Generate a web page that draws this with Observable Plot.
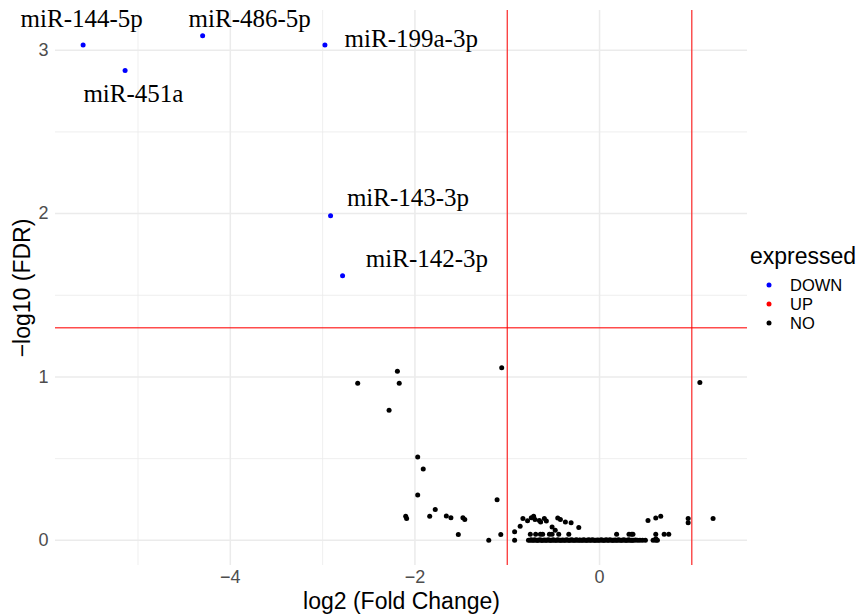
<!DOCTYPE html>
<html>
<head>
<meta charset="utf-8">
<script src="https://cdn.jsdelivr.net/npm/d3@7"></script>
<script src="https://cdn.jsdelivr.net/npm/@observablehq/plot@0.6"></script>
<style>
  html, body { margin: 0; padding: 0; background: #fff; }
  #chart { width: 866px; height: 615px; }
</style>
</head>
<body>
<div id="chart"></div>
<script>
// ---- Data ----
const downNames = ["miR-144-5p", "miR-451a", "miR-486-5p", "miR-199a-3p", "miR-143-3p", "miR-142-3p"];
const downFC    = [-5.595, -5.14, -4.30, -2.975, -2.914, -2.784];
const downFDR   = [3.032, 2.875, 3.089, 3.032, 1.986, 1.619];
// label anchor positions (repelled text), data coordinates
const labelFC   = [-5.61, -5.05, -3.79, -2.04, -2.075, -1.87];
const labelFDR  = [3.19, 2.733, 3.19, 3.07, 2.096, 1.719];

const noFC = [
  -2.62, -2.19, -2.17, -2.28, -1.06, -1.97, -1.91, -1.97, -2.10, -2.09,
  -1.84, -1.78, -1.66, -1.61, -1.48, -1.46, -1.53, -1.11, -1.20, -1.07,
  -0.92, -0.92, -0.86, -0.83, -0.78, -0.739, -0.714, -0.699, -0.652, -0.638,
  -0.598, -0.576, -0.514, -0.453, -0.424, -0.37, -0.308, -0.225, -0.48,
  -0.75, -0.692, -0.641, -0.616, -0.543, -0.514, -0.442, -0.333,
  0.185, 0.319, 0.348, 0.362, 0.609, 0.70, 0.75,
  0.525, 0.609, 0.663, 0.96, 0.96, 1.23, 1.087, 0.61,
  -0.77, -0.752, -0.741, -0.728, -0.713, -0.703, -0.688, -0.672, -0.664, -0.647,
  -0.633, -0.625, -0.611, -0.596, -0.581, -0.572, -0.556, -0.543, -0.531, -0.517,
  -0.502, -0.494, -0.476, -0.463, -0.452, -0.437, -0.424, -0.409, -0.398, -0.381,
  -0.372, -0.356, -0.343, -0.329, -0.318, -0.303, -0.291, -0.277, -0.262, -0.251,
  -0.238, -0.221, -0.213, -0.196, -0.183, -0.171, -0.158, -0.142, -0.131, -0.117,
  -0.104, -0.092, -0.077, -0.063, -0.051, -0.038, -0.022, -0.011, 0.004, 0.018,
  0.031, 0.046, 0.058, 0.072, 0.087, 0.099, 0.113, 0.127, 0.142, 0.153,
  0.168, 0.181, 0.194, 0.207, 0.221, 0.234, 0.247, 0.262, 0.276, 0.288,
  0.301, 0.316, 0.327, 0.343, 0.356, 0.372, 0.391, 0.412, 0.438, 0.466,
  0.497, 0.58, 0.609, 0.627
];
const noFDR = [
  0.962, 1.035, 0.962, 0.797, 1.056, 0.51, 0.436, 0.277, 0.147, 0.134,
  0.147, 0.188, 0.149, 0.139, 0.139, 0.127, 0.035, 0.249, 0.0, 0.035,
  0.053, 0.0, 0.086, 0.134, 0.12, 0.139, 0.147, 0.127, 0.122, 0.112,
  0.133, 0.118, 0.082, 0.136, 0.128, 0.112, 0.108, 0.078, 0.061,
  0.037, 0.037, 0.037, 0.037, 0.037, 0.037, 0.037, 0.037,
  0.037, 0.037, 0.037, 0.037, 0.037, 0.037, 0.037,
  0.122, 0.136, 0.147, 0.133, 0.108, 0.133, 0.966, 0.01,
  0.0, 0.0, 0.004, 0.0, 0.0, 0.003, 0.0, 0.0, 0.0, 0.004,
  0.0, 0.0, 0.0, 0.002, 0.0, 0.0, 0.004, 0.0, 0.0, 0.0,
  0.003, 0.0, 0.0, 0.0, 0.004, 0.0, 0.0, 0.0, 0.002, 0.0,
  0.0, 0.004, 0.0, 0.0, 0.0, 0.003, 0.0, 0.0, 0.0, 0.004,
  0.0, 0.0, 0.002, 0.0, 0.0, 0.004, 0.0, 0.0, 0.0, 0.003,
  0.0, 0.0, 0.004, 0.0, 0.0, 0.0, 0.002, 0.0, 0.0, 0.004,
  0.0, 0.0, 0.0, 0.003, 0.0, 0.0, 0.004, 0.0, 0.0, 0.0,
  0.002, 0.0, 0.0, 0.004, 0.0, 0.0, 0.0, 0.003, 0.0, 0.0,
  0.0, 0.004, 0.0, 0.0, 0.0, 0.0, 0.002, 0.0, 0.0, 0.0,
  0.0, 0.0, 0.0, 0.0
];

const legendLabels = ["DOWN", "UP", "NO"];
const legendColors = ["#0000ff", "#ff0000", "#000000"];
const legendTitle = "expressed";

const xMajorTicks = [-4, -2, 0];
const xMinorTicks = [-5, -3, -1, 1];
const yMajorTicks = [0, 1, 2, 3];
const yMinorTicks = [0.5, 1.5, 2.5];
const fcCutoffs = [-1, 1];
const fdrCutoff = [1.30103];
const xTitle = "log2 (Fold Change)";
const yTitle = "\u2212log10 (FDR)";

// ---- Build tables ----
const colorOf = Object.fromEntries(legendLabels.map((l, i) => [l, legendColors[i]]));
const points = [
  ...noFC.map((x, i) => ({x, y: noFDR[i], g: "NO"})),
  ...downFC.map((x, i) => ({x, y: downFDR[i], g: "DOWN"}))
];
const labels = downNames.map((name, i) => ({name, x: labelFC[i], y: labelFDR[i]}));

const sans = "'Liberation Sans', Arial, Helvetica, sans-serif";
const serif = "'Liberation Serif', 'Times New Roman', Times, serif";

const chart = Plot.plot({
  width: 866,
  height: 615,
  marginLeft: 55,
  marginRight: 119,
  marginTop: 10,
  marginBottom: 50,
  x: {domain: [-5.894, 1.603]},
  y: {domain: [-0.154, 3.243]},
  style: {fontFamily: sans, background: "#fff", color: "#4d4d4d"},
  marks: [
    Plot.gridX(xMinorTicks, {stroke: "#ebebeb", strokeOpacity: 1, strokeWidth: 0.8}),
    Plot.gridY(yMinorTicks, {stroke: "#ebebeb", strokeOpacity: 1, strokeWidth: 0.8}),
    Plot.gridX(xMajorTicks, {stroke: "#ebebeb", strokeOpacity: 1, strokeWidth: 1.5}),
    Plot.gridY(yMajorTicks, {stroke: "#ebebeb", strokeOpacity: 1, strokeWidth: 1.5}),
    Plot.axisX(xMajorTicks, {tickSize: 0, tickPadding: 5, fontSize: 18, color: "#4d4d4d", label: null, tickFormat: d => d < 0 ? "\u2212" + Math.abs(d) : String(d)}),
    Plot.axisY(yMajorTicks, {tickSize: 0, tickPadding: 7, fontSize: 18, color: "#4d4d4d", label: null, tickFormat: d => String(d)}),
    Plot.dot(points, {x: "x", y: "y", r: 2.5, fill: d => colorOf[d.g], stroke: null}),
    Plot.ruleX(fcCutoffs, {stroke: "#ff0000", strokeWidth: 1}),
    Plot.ruleY(fdrCutoff, {stroke: "#ff0000", strokeWidth: 1.4, strokeOpacity: 0.7}),
    Plot.text(labels, {x: "x", y: "y", text: "name", fontFamily: serif, fontSize: 25, fill: "#000"}),
    Plot.text([xTitle], {frameAnchor: "bottom", dy: 36, textAnchor: "middle", lineAnchor: "middle", text: d => d, fontSize: 23, fill: "#000"}),
    Plot.text([yTitle], {frameAnchor: "left", dx: -32.4, rotate: -90, textAnchor: "middle", lineAnchor: "middle", text: d => d, fontSize: 23, fill: "#000"})
  ]
});

// ---- Legend (right side) ----
const svg = d3.select(chart);
const lg = svg.append("g").attr("font-family", sans).attr("text-anchor", "start");
lg.append("text").attr("x", 750).attr("y", 264).attr("font-size", 23).attr("fill", "#000").attr("text-anchor", "start").text(legendTitle);
legendLabels.forEach((lab, i) => {
  const cy = 285 + i * 19;
  lg.append("circle").attr("cx", 769).attr("cy", cy).attr("r", 2.5).attr("fill", legendColors[i]);
  lg.append("text").attr("x", 790).attr("y", cy).attr("dy", "0.35em").attr("font-size", 16.5).attr("fill", "#000").attr("text-anchor", "start").text(lab);
});

document.getElementById("chart").appendChild(chart);
</script>
</body>
</html>
